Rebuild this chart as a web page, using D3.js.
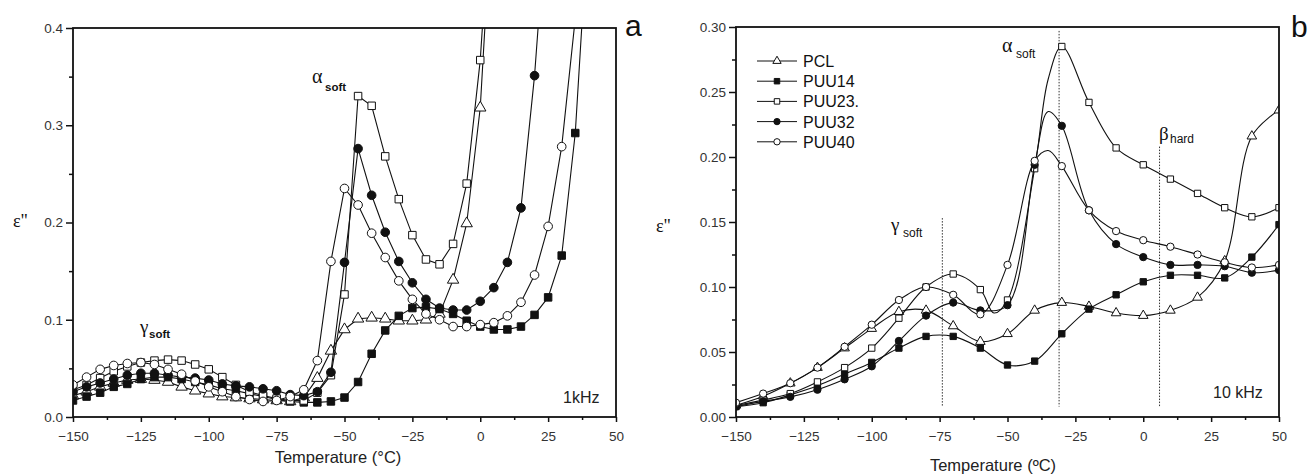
<!DOCTYPE html>
<html lang="en">
<head>
<meta charset="utf-8">
<script src="https://cdnjs.cloudflare.com/ajax/libs/d3/7.8.5/d3.min.js"></script>
<style>
html, body { margin: 0; padding: 0; background: #fff; }
svg { display: block; font-family: 'Liberation Sans', Arial, sans-serif; }
.tick text { fill: #333; }
.greek { font-family: 'Liberation Serif', 'Times New Roman', serif; }
</style>
</head>
<body>
<svg width="1310" height="476"></svg>
<script>
// panel a : 1 kHz, 5 degree steps
const tempA = [-150, -145, -140, -135, -130, -125, -120, -115, -110, -105, -100, -95, -90, -85, -80,
  -75, -70, -65, -60, -55, -50, -45, -40, -35, -30, -25, -20, -15, -10, -5, 0, 5, 10, 15, 20, 25, 30, 35, 40];
const pclA = [.022, .026, .031, .035, .038, .039, .038, .036, .031, .027, .024, .021, .020, .019, .018,
  .017, .016, .020, .040, .068, .090, .101, .102, .101, .099, .099, .100, .106, .141, .199, .318, .56];
const puu14A = [.017, .021, .025, .031, .034, .039, .041, .041, .039, .036, .033, .029, .027, .024, .021,
  .018, .016, .015, .015, .016, .020, .036, .065, .089, .104, .112, .113, .111, .106, .099, .093, .090, .090, .093, .105, .123, .166, .292, .52];
const puu23A = [.028, .033, .040, .047, .052, .056, .058, .059, .058, .054, .049, .041, .033, .026, .022,
  .019, .017, .017, .025, .043, .126, .330, .320, .268, .224, .187, .162, .157, .178, .240, .367, .58];
const puu32A = [.026, .031, .035, .039, .043, .045, .045, .043, .041, .040, .038, .034, .032, .031, .029,
  .027, .023, .022, .026, .046, .159, .276, .228, .190, .160, .138, .121, .112, .110, .110, .119, .133, .159, .215, .351, .54];
const puu40A = [.033, .041, .049, .053, .055, .056, .054, .049, .044, .037, .031, .026, .021, .018, .016,
  .017, .021, .028, .058, .160, .235, .218, .189, .164, .140, .121, .106, .100, .093, .093, .095, .097, .104, .118, .146, .196, .278, .41];

// panel b : 10 kHz, 10 degree steps (-55 / -35 are unmarked spline points)
const tempB = [-150, -140, -130, -120, -110, -100, -90, -80, -70, -60, -55, -50, -40, -35, -30, -20, -10, 0, 10, 20, 30, 40, 50];
const pclB = [.009, .016, .026, .038, .053, .068, .081, .082, .070, .058, null, .064, .082, null, .088, .085, .080, .078, .082, .092, .120, .216, .236];
const puu14B = [.008, .011, .017, .024, .033, .042, .053, .062, .062, .053, null, .040, .043, null, .064, .083, .094, .104, .109, .109, .107, .123, .148];
const puu23B = [.009, .013, .018, .027, .038, .053, .076, .100, .110, .098, .080, .090, .191, .260, .285, .242, .207, .194, .183, .172, .161, .154, .161];
const puu32B = [.008, .012, .0155, .021, .029, .039, .0585, .078, .088, .082, null, .086, .194, .235, .224, .159, .133, .123, .117, .117, .116, .111, .113];
const puu40B = [.011, .018, .026, .038, .054, .071, .090, .100, .094, .079, null, .117, .197, .205, .193, .159, .143, .136, .131, .125, .119, .115, .117];

const seriesNames = ['PCL', 'PUU14', 'PUU23.', 'PUU32', 'PUU40'];
const xTicks = [-150, -125, -100, -75, -50, -25, 0, 25, 50];

// transition lines in panel b
const transT = [-74, -31, 6];
const transTop = [0.153, 0.297, 0.208];

const styles = [
  { type: d3.symbolTriangle, fill: '#fff', k: 1.0 },
  { type: d3.symbolSquare, fill: '#111', k: 1.0 },
  { type: d3.symbolSquare, fill: '#fff', k: 1.0 },
  { type: d3.symbolCircle, fill: '#111', k: 1.05 },
  { type: d3.symbolCircle, fill: '#fff', k: 1.05 }
];

const svg = d3.select('svg');
svg.append('rect').attr('width', 1310).attr('height', 476).attr('fill', '#fff');

function drawPanel(p) {
  const x = d3.scaleLinear().domain([-150, 50]).range([p.left, p.right]);
  const y = d3.scaleLinear().domain([0, p.yMax]).range([p.bottom, p.top]);
  const g = svg.append('g');

  g.append('clipPath').attr('id', 'clip-' + p.name)
    .append('rect')
    .attr('x', p.left).attr('y', p.top)
    .attr('width', p.right - p.left).attr('height', p.bottom - p.top);

  const plot = g.append('g').attr('clip-path', `url(#clip-${p.name})`);

  if (p.extra) p.extra(plot, x, y);

  const line = d3.line().x(d => x(d.t)).y(d => y(d.v)).curve(p.curve);

  p.series.forEach((vals, si) => {
    const pts = p.temps.map((t, i) => ({ t, v: vals[i] })).filter(d => d.v != null);
    plot.append('path')
      .datum(pts)
      .attr('d', line)
      .attr('fill', 'none')
      .attr('stroke', '#111')
      .attr('stroke-width', 1.1);

    const st = styles[si];
    plot.selectAll(null)
      .data(pts.filter(p.marked))
      .enter()
      .append('path')
      .attr('transform', d => `translate(${x(d.t)},${y(d.v)})`)
      .attr('d', d3.symbol().type(st.type).size(p.markSize * st.k))
      .attr('fill', st.fill)
      .attr('stroke', '#111')
      .attr('stroke-width', 1);
  });

  // axes
  g.append('g').attr('transform', `translate(0,${p.bottom})`)
    .call(d3.axisBottom(x).tickValues(xTicks).tickSize(5).tickPadding(9));
  g.append('g').attr('transform', `translate(0,${p.bottom})`)
    .call(d3.axisBottom(x).tickValues(d3.range(-137.5, 50, 25)).tickSize(3).tickFormat(''));
  g.append('g').attr('transform', `translate(${p.left},0)`)
    .call(d3.axisLeft(y).tickValues(p.yTicks).tickSize(7).tickPadding(3).tickFormat(d3.format(p.yFmt)));
  g.append('g').attr('transform', `translate(${p.left},0)`)
    .call(d3.axisLeft(y).tickValues(p.yMinor).tickSize(4).tickFormat(''));

  g.selectAll('.domain').remove();
  g.selectAll('.tick line').attr('stroke', '#111').attr('stroke-width', 1.5);
  g.selectAll('.tick text').attr('font-size', 13.5).attr('font-family', "'Liberation Sans', Arial, sans-serif");

  g.append('rect')
    .attr('x', p.left).attr('y', p.top)
    .attr('width', p.right - p.left).attr('height', p.bottom - p.top)
    .attr('fill', 'none').attr('stroke', '#111').attr('stroke-width', 1.8);

  return { x, y, g };
}

// ---- panel a
drawPanel({
  name: 'a', left: 73, right: 616, top: 28, bottom: 417,
  yMax: 0.4, yTicks: [0, 0.1, 0.2, 0.3, 0.4], yMinor: [0.05, 0.15, 0.25, 0.35], yFmt: '.1f',
  temps: tempA, series: [pclA, puu14A, puu23A, puu32A, puu40A],
  curve: d3.curveLinear, markSize: 56, marked: () => true
});

// ---- panel b
drawPanel({
  name: 'b', left: 736, right: 1279, top: 27, bottom: 417,
  yMax: 0.30, yTicks: [0, 0.05, 0.10, 0.15, 0.20, 0.25, 0.30], yMinor: [0.025, 0.075, 0.125, 0.175, 0.225, 0.275], yFmt: '.2f',
  temps: tempB, series: [pclB, puu14B, puu23B, puu32B, puu40B],
  curve: d3.curveCatmullRom.alpha(0.5), markSize: 40, marked: d => d.t % 10 === 0,
  extra: (plot, x, y) => {
    plot.selectAll(null)
      .data(transT)
      .enter()
      .append('line')
      .attr('x1', d => x(d)).attr('x2', d => x(d))
      .attr('y1', (d, i) => y(transTop[i])).attr('y2', y(0.008))
      .attr('stroke', '#333').attr('stroke-width', 1)
      .attr('stroke-dasharray', '1.5 1.5');
  }
});

// ---- text
function greekLabel(x, y, sym, sub, opts) {
  svg.append('text').attr('class', 'greek')
    .attr('x', x).attr('y', y).attr('font-size', opts.size).attr('fill', '#111').text(sym);
  svg.append('text')
    .attr('x', x + opts.dx).attr('y', y + opts.dy)
    .attr('font-size', opts.subSize).attr('font-weight', opts.bold ? 'bold' : 'normal')
    .attr('fill', '#111').text(sub);
}

greekLabel(140, 333, 'γ', 'soft', { size: 19, subSize: 11.5, dx: 9, dy: 5, bold: true });
greekLabel(312, 83, 'α', 'soft', { size: 20, subSize: 11.5, dx: 13, dy: 8, bold: true });
greekLabel(891, 231, 'γ', 'soft', { size: 19, subSize: 12, dx: 12, dy: 6, bold: false });
greekLabel(1002, 52, 'α', 'soft', { size: 20, subSize: 12, dx: 14, dy: 6, bold: false });
greekLabel(1159, 140, 'β', 'hard', { size: 19, subSize: 12, dx: 11, dy: 3, bold: false });

svg.append('text').attr('x', 563).attr('y', 403).attr('font-size', 16).attr('fill', '#222').text('1kHz');
svg.append('text').attr('x', 1213).attr('y', 398).attr('font-size', 16).attr('fill', '#222').text('10 kHz');

svg.append('text').attr('x', 625).attr('y', 36).attr('font-size', 30).attr('fill', '#111').text('a');
svg.append('text').attr('x', 1291).attr('y', 37).attr('font-size', 30).attr('fill', '#111').text('b');

svg.append('text').attr('x', 338).attr('y', 463).attr('text-anchor', 'middle')
  .attr('font-size', 16.5).attr('fill', '#222').text('Temperature (°C)');
svg.append('text').attr('x', 993).attr('y', 471).attr('text-anchor', 'middle')
  .attr('font-size', 16.5).attr('fill', '#222').text('Temperature (ºC)');

svg.append('text').attr('class', 'greek').attr('x', 13).attr('y', 227)
  .attr('font-size', 18).attr('fill', '#111').text('ε"');
svg.append('text').attr('class', 'greek').attr('x', 656).attr('y', 232)
  .attr('font-size', 18).attr('fill', '#111').text('ε"');

// legend
const legend = svg.append('g').attr('transform', 'translate(757,61)');
const rows = legend.selectAll('g').data(seriesNames).enter().append('g')
  .attr('transform', (d, i) => `translate(0,${i * 20.2})`);
rows.append('line').attr('x1', 0).attr('x2', 40).attr('stroke', '#111').attr('stroke-width', 1);
rows.append('path')
  .attr('transform', 'translate(20,0)')
  .attr('d', (d, i) => d3.symbol().type(styles[i].type).size(30 * styles[i].k)())
  .attr('fill', (d, i) => styles[i].fill)
  .attr('stroke', '#111').attr('stroke-width', 1);
rows.append('text').attr('x', 46).attr('y', 6).attr('font-size', 16).attr('fill', '#111').text(d => d);
</script>
</body>
</html>
